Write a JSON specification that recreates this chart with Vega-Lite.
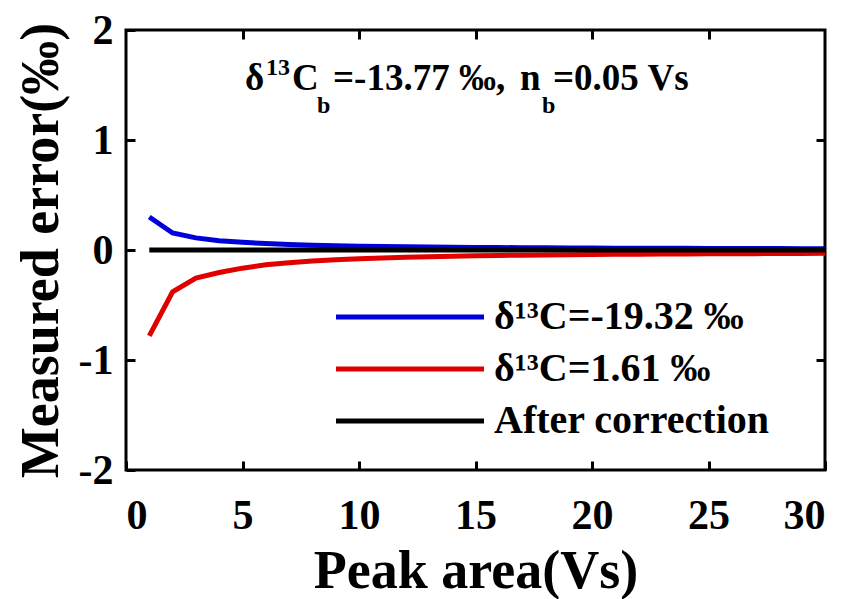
{
  "$schema": "https://vega.github.io/schema/vega-lite/v6.json",
  "width": 699,
  "height": 440,
  "autosize": "none",
  "padding": {"left": 126, "top": 30, "right": 24, "bottom": 129},
  "background": "white",
  "config": {
    "view": {"stroke": "black", "strokeWidth": 3},
    "font": "Liberation Serif",
    "style": {
      "guide-label": {"font": "Liberation Serif", "fontWeight": "bold"},
      "guide-title": {"font": "Liberation Serif", "fontWeight": "bold"}
    },
    "axis": {
      "grid": false,
      "domain": false,
      "tickColor": "black",
      "tickWidth": 3,
      "tickSize": -9,
      "labelFont": "Liberation Serif",
      "labelFontWeight": "bold",
      "labelFontSize": 42,
      "labelColor": "black",
      "titleFont": "Liberation Serif",
      "titleFontWeight": "bold",
      "titleFontSize": 54,
      "titleColor": "black"
    },
    "legend": {
      "labelFont": "Liberation Serif",
      "labelFontWeight": "bold"
    }
  },
  "layer": [
    {
      "data": {
        "values": [
          {"series": "δ¹³C=-19.32 ‰", "x": 1, "y": 0.3},
          {"series": "δ¹³C=-19.32 ‰", "x": 2, "y": 0.155},
          {"series": "δ¹³C=-19.32 ‰", "x": 3, "y": 0.11},
          {"series": "δ¹³C=-19.32 ‰", "x": 4, "y": 0.085},
          {"series": "δ¹³C=-19.32 ‰", "x": 5, "y": 0.07},
          {"series": "δ¹³C=-19.32 ‰", "x": 6, "y": 0.058},
          {"series": "δ¹³C=-19.32 ‰", "x": 7, "y": 0.05},
          {"series": "δ¹³C=-19.32 ‰", "x": 8, "y": 0.044},
          {"series": "δ¹³C=-19.32 ‰", "x": 9, "y": 0.039},
          {"series": "δ¹³C=-19.32 ‰", "x": 10, "y": 0.035},
          {"series": "δ¹³C=-19.32 ‰", "x": 11, "y": 0.032},
          {"series": "δ¹³C=-19.32 ‰", "x": 12, "y": 0.029},
          {"series": "δ¹³C=-19.32 ‰", "x": 13, "y": 0.027},
          {"series": "δ¹³C=-19.32 ‰", "x": 14, "y": 0.025},
          {"series": "δ¹³C=-19.32 ‰", "x": 15, "y": 0.023},
          {"series": "δ¹³C=-19.32 ‰", "x": 16, "y": 0.022},
          {"series": "δ¹³C=-19.32 ‰", "x": 17, "y": 0.021},
          {"series": "δ¹³C=-19.32 ‰", "x": 18, "y": 0.02},
          {"series": "δ¹³C=-19.32 ‰", "x": 19, "y": 0.019},
          {"series": "δ¹³C=-19.32 ‰", "x": 20, "y": 0.018},
          {"series": "δ¹³C=-19.32 ‰", "x": 21, "y": 0.017},
          {"series": "δ¹³C=-19.32 ‰", "x": 22, "y": 0.016},
          {"series": "δ¹³C=-19.32 ‰", "x": 23, "y": 0.0155},
          {"series": "δ¹³C=-19.32 ‰", "x": 24, "y": 0.015},
          {"series": "δ¹³C=-19.32 ‰", "x": 25, "y": 0.0145},
          {"series": "δ¹³C=-19.32 ‰", "x": 26, "y": 0.014},
          {"series": "δ¹³C=-19.32 ‰", "x": 27, "y": 0.0135},
          {"series": "δ¹³C=-19.32 ‰", "x": 28, "y": 0.013},
          {"series": "δ¹³C=-19.32 ‰", "x": 29, "y": 0.0125},
          {"series": "δ¹³C=-19.32 ‰", "x": 30, "y": 0.012},
          {"series": "δ¹³C=1.61 ‰", "x": 1, "y": -0.78},
          {"series": "δ¹³C=1.61 ‰", "x": 2, "y": -0.38},
          {"series": "δ¹³C=1.61 ‰", "x": 3, "y": -0.255},
          {"series": "δ¹³C=1.61 ‰", "x": 4, "y": -0.205},
          {"series": "δ¹³C=1.61 ‰", "x": 5, "y": -0.165},
          {"series": "δ¹³C=1.61 ‰", "x": 6, "y": -0.135},
          {"series": "δ¹³C=1.61 ‰", "x": 7, "y": -0.115},
          {"series": "δ¹³C=1.61 ‰", "x": 8, "y": -0.1},
          {"series": "δ¹³C=1.61 ‰", "x": 9, "y": -0.088},
          {"series": "δ¹³C=1.61 ‰", "x": 10, "y": -0.079},
          {"series": "δ¹³C=1.61 ‰", "x": 11, "y": -0.072},
          {"series": "δ¹³C=1.61 ‰", "x": 12, "y": -0.066},
          {"series": "δ¹³C=1.61 ‰", "x": 13, "y": -0.061},
          {"series": "δ¹³C=1.61 ‰", "x": 14, "y": -0.057},
          {"series": "δ¹³C=1.61 ‰", "x": 15, "y": -0.053},
          {"series": "δ¹³C=1.61 ‰", "x": 16, "y": -0.05},
          {"series": "δ¹³C=1.61 ‰", "x": 17, "y": -0.047},
          {"series": "δ¹³C=1.61 ‰", "x": 18, "y": -0.045},
          {"series": "δ¹³C=1.61 ‰", "x": 19, "y": -0.043},
          {"series": "δ¹³C=1.61 ‰", "x": 20, "y": -0.041},
          {"series": "δ¹³C=1.61 ‰", "x": 21, "y": -0.039},
          {"series": "δ¹³C=1.61 ‰", "x": 22, "y": -0.038},
          {"series": "δ¹³C=1.61 ‰", "x": 23, "y": -0.037},
          {"series": "δ¹³C=1.61 ‰", "x": 24, "y": -0.036},
          {"series": "δ¹³C=1.61 ‰", "x": 25, "y": -0.035},
          {"series": "δ¹³C=1.61 ‰", "x": 26, "y": -0.034},
          {"series": "δ¹³C=1.61 ‰", "x": 27, "y": -0.033},
          {"series": "δ¹³C=1.61 ‰", "x": 28, "y": -0.032},
          {"series": "δ¹³C=1.61 ‰", "x": 29, "y": -0.031},
          {"series": "δ¹³C=1.61 ‰", "x": 30, "y": -0.03},
          {"series": "After correction", "x": 1, "y": 0},
          {"series": "After correction", "x": 5, "y": 0},
          {"series": "After correction", "x": 10, "y": 0},
          {"series": "After correction", "x": 15, "y": 0},
          {"series": "After correction", "x": 20, "y": 0},
          {"series": "After correction", "x": 25, "y": 0},
          {"series": "After correction", "x": 30, "y": 0}
        ]
      },
      "mark": {"type": "line", "strokeWidth": 5, "clip": true},
      "encoding": {
        "x": {
          "field": "x", "type": "quantitative",
          "scale": {"domain": [0, 30], "nice": false},
          "axis": {"values": [0, 5, 10, 15, 20, 25, 30], "title": "Peak area(Vs)", "labelFont": "Liberation Serif", "labelFontWeight": "bold", "labelPadding": 34, "titlePadding": 8, "labelExpr": "'' + datum.value"}
        },
        "y": {
          "field": "y", "type": "quantitative",
          "scale": {"domain": [-2, 2], "nice": false},
          "axis": {"values": [-2, -1, 0, 1, 2], "title": "Measured error(‰)", "labelFont": "Liberation Serif", "labelFontWeight": "bold", "labelPadding": 22, "titlePadding": 10, "labelExpr": "'' + datum.value"}
        },
        "color": {
          "field": "series", "type": "nominal",
          "scale": {"domain": ["δ¹³C=-19.32 ‰", "δ¹³C=1.61 ‰", "After correction"], "range": ["#0000d8", "#e00000", "#000000"]},
          "legend": {
            "orient": "none",
            "legendX": 264,
            "legendY": 267,
            "title": null,
            "symbolType": "M-7.4,0H7.4",
            "symbolSize": 400,
            "symbolStrokeWidth": 5,
            "symbolFillColor": "transparent",
            "labelFont": "Liberation Serif",
            "labelFontWeight": "bold",
            "labelFontSize": 40,
            "labelColor": "black",
            "labelOffset": 64,
            "rowPadding": 12,
            "labelLimit": 400
          }
        }
      }
    },
    {
      "data": {
        "values": [
          {"t": "δ", "x": 5.107, "y": 1.455},
          {"t": "C", "x": 7.124, "y": 1.455},
          {"t": "=-13.77 ‰,", "x": 8.884, "y": 1.455},
          {"t": "n", "x": 16.91, "y": 1.455},
          {"t": "=0.05 Vs", "x": 18.326, "y": 1.455}
        ]
      },
      "mark": {"type": "text", "align": "left", "baseline": "alphabetic", "font": "Liberation Serif", "fontWeight": "bold", "fontSize": 37, "color": "black"},
      "encoding": {
        "x": {"field": "x", "type": "quantitative", "axis": {"orient": "top", "labels": false, "title": null, "values": [5, 10, 15, 20, 25]}},
        "y": {"field": "y", "type": "quantitative", "axis": {"orient": "right", "labels": false, "title": null, "values": [-1, 0, 1]}},
        "text": {"field": "t"}
      }
    },
    {
      "data": {
        "values": [
          {"t": "13", "x": 6.009, "y": 1.59},
          {"t": "b", "x": 8.197, "y": 1.25},
          {"t": "b", "x": 17.854, "y": 1.25}
        ]
      },
      "mark": {"type": "text", "align": "left", "baseline": "alphabetic", "font": "Liberation Serif", "fontWeight": "bold", "fontSize": 24, "color": "black"},
      "encoding": {
        "x": {"field": "x", "type": "quantitative", "axis": null},
        "y": {"field": "y", "type": "quantitative", "axis": null},
        "text": {"field": "t"}
      }
    }
  ],
  "resolve": {"axis": {"x": "independent", "y": "independent"}}
}
